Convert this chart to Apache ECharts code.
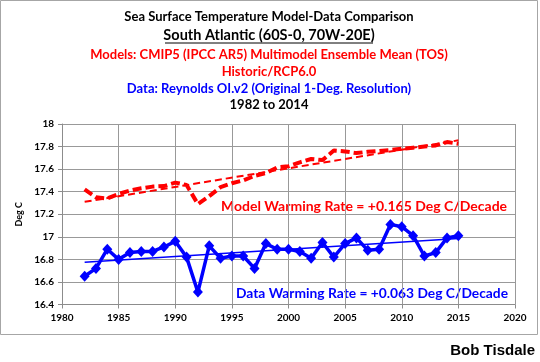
<!DOCTYPE html>
<html><head><meta charset="utf-8">
<script src="https://cdn.jsdelivr.net/npm/echarts@6/dist/echarts.min.js"></script>
<style>html,body{margin:0;padding:0;background:#fff}#c{width:540px;height:362px}</style>
</head><body><div id="c"></div>
<script>
const years = [1982,1983,1984,1985,1986,1987,1988,1989,1990,1991,1992,1993,1994,1995,1996,1997,1998,1999,2000,2001,2002,2003,2004,2005,2006,2007,2008,2009,2010,2011,2012,2013,2014,2015];
const modelSST = [17.42,17.35,17.34,17.38,17.41,17.43,17.445,17.45,17.48,17.46,17.29,17.36,17.44,17.475,17.50,17.54,17.565,17.615,17.625,17.66,17.69,17.68,17.765,17.757,17.742,17.754,17.76,17.77,17.78,17.79,17.80,17.81,17.84,17.825];
const dataSST = [16.65,16.72,16.89,16.80,16.86,16.87,16.87,16.91,16.96,16.82,16.51,16.92,16.81,16.83,16.83,16.72,16.94,16.89,16.89,16.87,16.81,16.95,16.82,16.94,16.99,16.88,16.89,17.11,17.09,17.01,16.83,16.86,16.99,17.01];
const trendYears = [1982, 2015];
const modelTrend = [17.31, 17.855];
const dataTrend = [16.775, 16.985];
const titleLines = [
  {text:'Sea Surface Temperature Model-Data Comparison', color:'#000', size:13},
  {text:'South Atlantic (60S-0, 70W-20E)', color:'#000', size:14.5},
  {text:'Models: CMIP5 (IPCC AR5) Multimodel Ensemble Mean (TOS)', color:'#ff0000', size:13},
  {text:'Historic/RCP6.0', color:'#ff0000', size:13},
  {text:'Data: Reynolds OI.v2 (Original 1-Deg. Resolution)', color:'#0000ff', size:13},
  {text:'1982 to 2014', color:'#000', size:13}
];
const titleY = [17, 35.5, 55, 72, 89, 105];
const modelLabel = 'Model Warming Rate = +0.165 Deg C/Decade';
const dataLabel = 'Data Warming Rate = +0.063 Deg C/Decade';

const pair = (xs, ys) => xs.map((x, i) => [x, ys[i]]);
const FONT = 'Lato';
const chart = echarts.init(document.getElementById('c'), null, {renderer:'canvas'});
const graphics = [
  {type:'rect', shape:{x:0.5, y:0.5, width:537, height:334}, style:{fill:'none', stroke:'#a6a6a6', lineWidth:1}, z:0},
  {type:'text', right:5, top:343, style:{text:'Bob Tisdale', font:'bold 15px "Liberation Sans"', fill:'#000'}}
];
titleLines.forEach((t, i) => {
  graphics.push({type:'text', x:269, y:titleY[i], style:{text:t.text, font:'bold '+t.size+'px '+FONT, fill:t.color, textAlign:'center', textVerticalAlign:'middle'}});
});
graphics.push({type:'line', shape:{x1:165, y1:43, x2:373, y2:43}, style:{stroke:'#000', lineWidth:1}});
graphics.push({type:'text', x:364, y:206, style:{text:modelLabel, font:'bold 14px '+FONT, fill:'#ff0000', textAlign:'center', textVerticalAlign:'middle'}});
graphics.push({type:'text', x:372, y:294, style:{text:dataLabel, font:'bold 13.8px '+FONT, fill:'#0000ff', textAlign:'center', textVerticalAlign:'middle'}});

chart.setOption({
  animation:false,
  grid:{left:62, right:25, top:124, bottom:57.5, containLabel:false},
  xAxis:{type:'value', min:1980, max:2020, interval:5,
    axisLine:{show:true, lineStyle:{color:'#8c8c8c', width:1}},
    axisTick:{show:true, length:4, lineStyle:{color:'#8c8c8c'}},
    axisLabel:{color:'#000', fontFamily:FONT, fontWeight:'bold', fontSize:10, margin:8,
      formatter: v => String(v)},
    splitLine:{show:true, lineStyle:{color:'#999999', width:1}}},
  yAxis:{type:'value', min:16.4, max:18, interval:0.2,
    name:'Deg C', nameLocation:'middle', nameRotate:90, nameGap:38,
    nameTextStyle:{color:'#000', fontFamily:FONT, fontSize:9, fontWeight:'bold'},
    axisLine:{show:true, lineStyle:{color:'#8c8c8c', width:1}},
    axisTick:{show:true, length:4, lineStyle:{color:'#8c8c8c'}},
    axisLabel:{color:'#000', fontFamily:FONT, fontWeight:'bold', fontSize:10, margin:8,
      formatter: v => String(Math.round(v*10)/10)},
    splitLine:{show:true, lineStyle:{color:'#999999', width:1}}},
  series:[
    {type:'line', data:pair(trendYears, modelTrend), showSymbol:false, symbol:'none',
      lineStyle:{color:'#ff0000', width:2, type:[7,4]}, z:3},
    {type:'line', data:pair(years, modelSST), showSymbol:false, symbol:'none',
      lineStyle:{color:'#ff0000', width:4, type:[9,4]}, z:4},
    {type:'line', data:pair(trendYears, dataTrend), showSymbol:false, symbol:'none',
      lineStyle:{color:'#0000ff', width:1.5}, z:3},
    {type:'line', data:pair(years, dataSST), symbol:'diamond', symbolSize:[10,11], showSymbol:true,
      itemStyle:{color:'#0000ff'}, lineStyle:{color:'#0000ff', width:3.5}, z:5}
  ],
  graphic:graphics
});
</script></body></html>
